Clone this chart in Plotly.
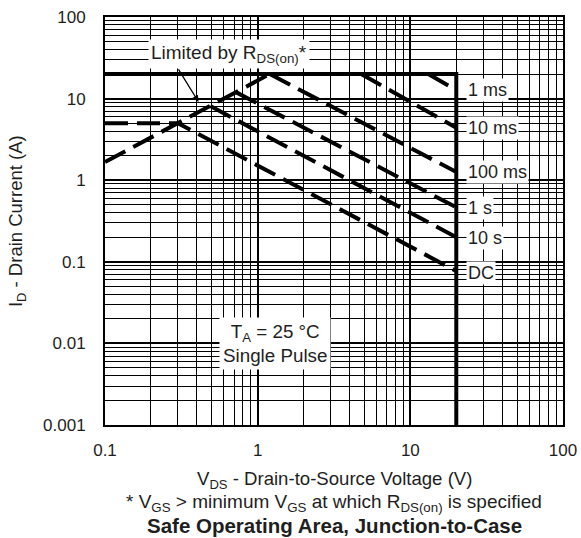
import math
import plotly.graph_objects as go

# ---- data ----
limit_v = [0.1, 20, 20]
limit_i = [20, 20, 0.001]

rds_v = [0.1, 1.2]
rds_i = [1.67, 20]

ms1_v = [13.1, 20]
ms1_i = [20, 12.75]

ms10_v = [4.76, 20]
ms10_i = [20, 4.4]

ms100_v = [1.2, 20]
ms100_i = [20, 1.26]

s1_v = [0.72, 20]
s1_i = [12.0, 0.465]

s10_v = [0.49, 20]
s10_i = [8.1, 0.2]

dc_v = [0.1, 0.3, 20]
dc_i = [5, 5, 0.077]

end_labels = ["1 ms", "10 ms", "100 ms", "1 s", "10 s", "DC"]
end_label_i = [12.7, 4.4, 1.27, 0.455, 0.196, 0.073]

x_tickvals = [0.1, 1, 10, 100]
x_ticktext = ["0.1", "1", "10", "100"]
y_tickvals = [0.001, 0.01, 0.1, 1, 10, 100]
y_ticktext = ["0.001", "0.01", "0.1", "1", "10", "100"]

FONT = "Liberation Sans, Arial, Helvetica, sans-serif"
TXT = "#1e1e1e"

fig = go.Figure()

dash_style = dict(color="black", width=4, dash="23px,9px")

for xs, ys in [(rds_v, rds_i), (ms1_v, ms1_i), (ms10_v, ms10_i), (ms100_v, ms100_i),
               (s1_v, s1_i), (s10_v, s10_i), (dc_v, dc_i)]:
    fig.add_trace(go.Scatter(x=xs, y=ys, mode="lines", line=dash_style,
                             showlegend=False, hoverinfo="skip"))

fig.add_trace(go.Scatter(x=limit_v, y=limit_i, mode="lines",
                         line=dict(color="black", width=4),
                         showlegend=False, hoverinfo="skip"))

axis_common = dict(
    type="log", automargin=False,
    showline=True, linecolor="black", linewidth=2, mirror=True,
    showgrid=True, gridcolor="black", gridwidth=1.6,
    ticks="", zeroline=False, ticklabeloverflow="allow",
    tickfont=dict(family=FONT, size=17, color=TXT),
    minor=dict(showgrid=True, gridcolor="black", gridwidth=1, dtick="D1", ticks=""),
)

fig.update_xaxes(axis_common, range=[-1, 2], tickvals=x_tickvals, ticktext=x_ticktext,
                 ticklabelstandoff=9)
fig.update_yaxes(axis_common, range=[-3, 2], tickvals=y_tickvals, ticktext=y_ticktext,
                 ticklabelstandoff=14)

ann = []
for lab, yv in zip(end_labels, end_label_i):
    ann.append(dict(x=math.log10(23), xref="x", y=math.log10(yv), yref="y",
                    text=lab, showarrow=False, xanchor="left", yanchor="middle",
                    bgcolor="white", borderpad=1,
                    font=dict(family=FONT, size=18, color=TXT)))

ann.append(dict(x=math.log10(0.645), y=math.log10(35), xref="x", yref="y",
                text="Limited by R<sub>DS(on)</sub>*", showarrow=False,
                xanchor="center", yanchor="middle",
                bgcolor="white", borderpad=2,
                font=dict(family=FONT, size=19, color=TXT)))
ann.append(dict(x=math.log10(0.41), y=math.log10(9.1), xref="x", yref="y",
                text="", showarrow=True, ax=-21, ay=-34, axref="pixel", ayref="pixel",
                arrowhead=2, arrowsize=1, arrowwidth=1.3, arrowcolor="black"))
ann.append(dict(x=math.log10(1.3), y=math.log10(0.0101), xref="x", yref="y",
                text="T<sub>A</sub> = 25 °C<br>Single Pulse", showarrow=False,
                xanchor="center", yanchor="middle",
                bgcolor="white", borderpad=3,
                font=dict(family=FONT, size=18.8, color=TXT)))
ann.append(dict(x=-0.192, y=0.5, xref="paper", yref="paper", textangle=-90,
                xanchor="center", yanchor="middle",
                text="I<sub>D</sub> - Drain Current (A)", showarrow=False,
                font=dict(family=FONT, size=18.5, color=TXT)))
ann.append(dict(x=0.5, y=-0.135, xref="paper", yref="paper",
                xanchor="center", yanchor="middle",
                text="V<sub>DS</sub> - Drain-to-Source Voltage (V)", showarrow=False,
                font=dict(family=FONT, size=18.6, color=TXT)))
ann.append(dict(x=0.5, y=-0.192, xref="paper", yref="paper",
                xanchor="center", yanchor="middle",
                text="* V<sub>GS</sub> &gt; minimum V<sub>GS</sub> at which R<sub>DS(on)</sub> is specified",
                showarrow=False, font=dict(family=FONT, size=19, color=TXT)))
ann.append(dict(x=0.5, y=-0.246, xref="paper", yref="paper",
                xanchor="center", yanchor="middle",
                text="<b>Safe Operating Area, Junction-to-Case</b>", showarrow=False,
                font=dict(family=FONT, size=20.5, color=TXT)))

fig.update_layout(
    width=581, height=538,
    margin=dict(l=105, r=18, t=17, b=113),
    plot_bgcolor="white", paper_bgcolor="white",
    annotations=ann,
    showlegend=False,
)

fig.write_html(
    "out.html",
    config={"displayModeBar": False},
    post_script="document.body.style.margin='0px';document.body.style.overflow='hidden';",
)
